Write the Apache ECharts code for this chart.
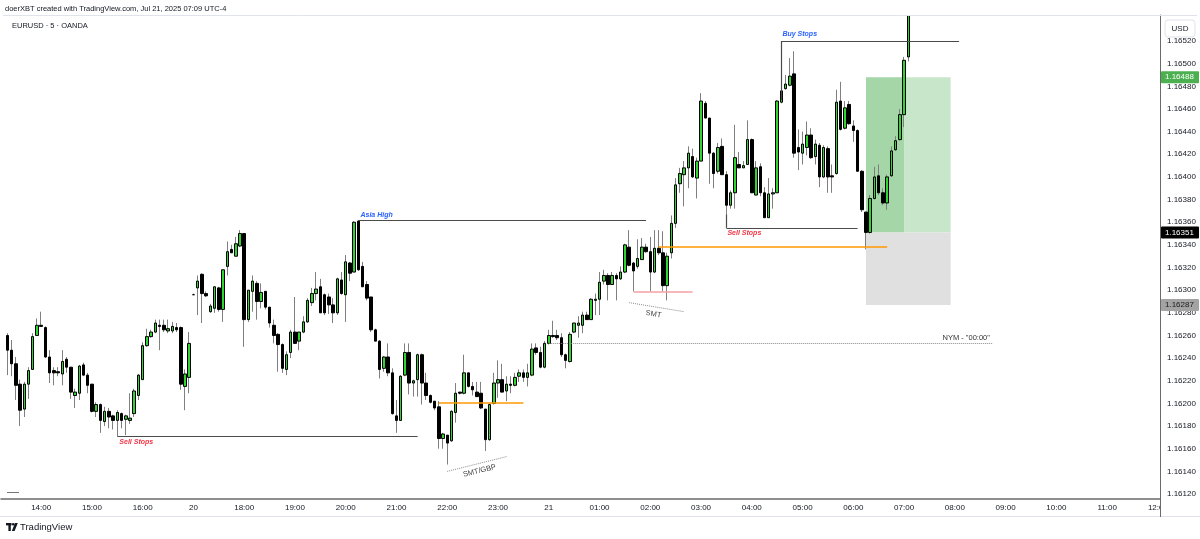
<!DOCTYPE html>
<html><head><meta charset="utf-8">
<script src="https://cdn.jsdelivr.net/npm/echarts@6/dist/echarts.min.js"></script>
<style>html,body{margin:0;padding:0;background:#fff}#c{width:1200px;height:539px}</style>
</head><body><div id="c"></div>
<script>
// ---------- time slots (5-minute bars) ----------
const sessionStart = '13:15';
const slotCount = 274;
const dayLabels = { '17:00': '20', '00:00': '21' };
const candleStart = '13:20';

// ---------- EURUSD 5m candles: [open, high, low, close] ----------
const candles = [
[1.16260,1.16262,1.16225,1.16247],[1.16247,1.16256,1.16224,1.16235],[1.16235,1.16241,1.16203,1.16216],[1.16217,1.16221,1.16180,1.16194],
[1.16195,1.16219,1.16188,1.16217],[1.16217,1.16232,1.16204,1.16229],[1.16230,1.16262,1.16230,1.16259],[1.16260,1.16275,1.16260,1.16269],
[1.16269,1.16281,1.16268,1.16268],[1.16267,1.16268,1.16240,1.16241],[1.16241,1.16247,1.16218,1.16227],[1.16229,1.16232,1.16216,1.16227],
[1.16228,1.16232,1.16224,1.16227],[1.16226,1.16247,1.16216,1.16237],[1.16239,1.16241,1.16227,1.16232],[1.16232,1.16232,1.16204,1.16210],
[1.16207,1.16213,1.16196,1.16210],[1.16209,1.16234,1.16203,1.16233],[1.16234,1.16236,1.16224,1.16225],[1.16225,1.16227,1.16209,1.16216],
[1.16217,1.16217,1.16192,1.16193],[1.16193,1.16201,1.16188,1.16199],[1.16199,1.16200,1.16174,1.16185],[1.16184,1.16197,1.16180,1.16193],
[1.16193,1.16196,1.16178,1.16188],[1.16189,1.16190,1.16177,1.16185],[1.16185,1.16194,1.16171,1.16192],[1.16191,1.16192,1.16178,1.16185],
[1.16186,1.16190,1.16172,1.16189],[1.16185,1.16209,1.16182,1.16187],[1.16191,1.16213,1.16188,1.16211],[1.16207,1.16226,1.16203,1.16225],
[1.16221,1.16254,1.16221,1.16251],[1.16251,1.16266,1.16250,1.16259],[1.16259,1.16265,1.16258,1.16263],[1.16263,1.16274,1.16262,1.16271],
[1.16269,1.16274,1.16247,1.16268],[1.16269,1.16274,1.16263,1.16265],[1.16264,1.16274,1.16262,1.16266],[1.16264,1.16272,1.16262,1.16268],
[1.16267,1.16271,1.16263,1.16265],[1.16267,1.16268,1.16212,1.16217],[1.16215,1.16230,1.16194,1.16226],[1.16223,1.16263,1.16209,1.16253],
[1.16296,1.16297,1.16296,1.16296],[1.16302,1.16313,1.16278,1.16308],[1.16314,1.16315,1.16271,1.16297],[1.16297,1.16299,1.16294,1.16295],
[1.16281,1.16288,1.16280,1.16286],[1.16284,1.16303,1.16280,1.16303],[1.16302,1.16303,1.16281,1.16283],[1.16283,1.16318,1.16272,1.16318],
[1.16321,1.16343,1.16313,1.16334],[1.16336,1.16340,1.16333,1.16333],[1.16330,1.16347,1.16330,1.16341],[1.16339,1.16353,1.16338,1.16350],
[1.16350,1.16350,1.16250,1.16274],[1.16274,1.16300,1.16272,1.16300],[1.16299,1.16313,1.16281,1.16308],[1.16306,1.16308,1.16274,1.16290],
[1.16290,1.16306,1.16284,1.16298],[1.16299,1.16299,1.16283,1.16285],[1.16285,1.16285,1.16267,1.16271],[1.16269,1.16274,1.16253,1.16260],
[1.16261,1.16262,1.16228,1.16252],[1.16252,1.16253,1.16227,1.16231],[1.16230,1.16246,1.16225,1.16243],[1.16245,1.16265,1.16240,1.16263],
[1.16263,1.16294,1.16253,1.16253],[1.16255,1.16263,1.16247,1.16263],[1.16263,1.16277,1.16262,1.16272],[1.16272,1.16293,1.16271,1.16291],
[1.16289,1.16302,1.16286,1.16297],[1.16297,1.16316,1.16291,1.16301],[1.16303,1.16310,1.16280,1.16280],[1.16296,1.16297,1.16278,1.16280],
[1.16294,1.16297,1.16279,1.16287],[1.16287,1.16293,1.16271,1.16280],[1.16280,1.16311,1.16278,1.16310],[1.16309,1.16316,1.16296,1.16297],
[1.16296,1.16331,1.16272,1.16325],[1.16324,1.16325,1.16308,1.16315],[1.16316,1.16361,1.16316,1.16360],[1.16361,1.16362,1.16317,1.16318],
[1.16321,1.16325,1.16303,1.16303],[1.16305,1.16308,1.16291,1.16293],[1.16294,1.16294,1.16263,1.16265],[1.16265,1.16266,1.16255,1.16255],
[1.16255,1.16256,1.16222,1.16230],[1.16231,1.16242,1.16228,1.16241],[1.16241,1.16253,1.16224,1.16227],[1.16227,1.16231,1.16190,1.16191],
[1.16189,1.16203,1.16174,1.16185],[1.16185,1.16225,1.16185,1.16224],[1.16225,1.16253,1.16224,1.16245],[1.16245,1.16253,1.16208,1.16218],
[1.16218,1.16221,1.16206,1.16220],[1.16221,1.16244,1.16206,1.16243],[1.16243,1.16244,1.16199,1.16218],[1.16218,1.16227,1.16203,1.16207],
[1.16207,1.16208,1.16200,1.16201],[1.16202,1.16202,1.16194,1.16196],[1.16197,1.16202,1.16160,1.16169],[1.16169,1.16174,1.16160,1.16173],
[1.16172,1.16172,1.16146,1.16165],[1.16167,1.16194,1.16166,1.16193],[1.16192,1.16218,1.16183,1.16209],[1.16210,1.16210,1.16208,1.16209],
[1.16209,1.16243,1.16208,1.16227],[1.16227,1.16227,1.16214,1.16215],[1.16215,1.16219,1.16207,1.16212],[1.16210,1.16219,1.16206,1.16206],
[1.16209,1.16219,1.16195,1.16196],[1.16195,1.16195,1.16158,1.16168],[1.16168,1.16200,1.16167,1.16199],[1.16200,1.16227,1.16199,1.16218],
[1.16218,1.16238,1.16205,1.16221],[1.16221,1.16235,1.16210,1.16210],[1.16211,1.16224,1.16202,1.16217],[1.16217,1.16224,1.16209,1.16216],
[1.16216,1.16227,1.16215,1.16223],[1.16224,1.16230,1.16219,1.16227],[1.16227,1.16230,1.16219,1.16223],[1.16223,1.16235,1.16215,1.16227],
[1.16225,1.16253,1.16224,1.16248],[1.16249,1.16253,1.16243,1.16245],[1.16245,1.16250,1.16231,1.16232],[1.16232,1.16255,1.16231,1.16253],
[1.16253,1.16265,1.16252,1.16260],[1.16260,1.16273,1.16258,1.16259],[1.16260,1.16265,1.16256,1.16258],[1.16258,1.16262,1.16241,1.16243],
[1.16243,1.16244,1.16231,1.16238],[1.16237,1.16263,1.16236,1.16261],[1.16263,1.16271,1.16262,1.16271],[1.16269,1.16277,1.16258,1.16271],
[1.16269,1.16281,1.16262,1.16278],[1.16278,1.16281,1.16274,1.16274],[1.16274,1.16293,1.16274,1.16292],[1.16291,1.16297,1.16278,1.16292],
[1.16292,1.16316,1.16278,1.16307],[1.16308,1.16318,1.16305,1.16313],[1.16313,1.16315,1.16291,1.16305],[1.16305,1.16316,1.16305,1.16313],
[1.16313,1.16315,1.16291,1.16310],[1.16310,1.16321,1.16309,1.16316],[1.16316,1.16341,1.16315,1.16340],[1.16338,1.16353,1.16321,1.16322],
[1.16324,1.16325,1.16299,1.16317],[1.16321,1.16345,1.16319,1.16328],[1.16327,1.16346,1.16327,1.16338],[1.16338,1.16341,1.16333,1.16334],
[1.16334,1.16347,1.16299,1.16316],[1.16316,1.16353,1.16315,1.16337],[1.16337,1.16353,1.16331,1.16333],[1.16333,1.16352,1.16299,1.16304],
[1.16304,1.16333,1.16291,1.16330],[1.16333,1.16366,1.16328,1.16359],[1.16359,1.16399,1.16355,1.16393],[1.16394,1.16408,1.16386,1.16403],
[1.16402,1.16414,1.16374,1.16408],[1.16408,1.16427,1.16390,1.16421],[1.16418,1.16425,1.16399,1.16400],[1.16399,1.16417,1.16381,1.16414],
[1.16414,1.16474,1.16414,1.16467],[1.16465,1.16467,1.16452,1.16452],[1.16452,1.16452,1.16394,1.16421],[1.16421,1.16422,1.16390,1.16403],
[1.16405,1.16430,1.16403,1.16426],[1.16427,1.16434,1.16402,1.16402],[1.16402,1.16405,1.16367,1.16375],[1.16375,1.16388,1.16372,1.16386],
[1.16386,1.16446,1.16372,1.16417],[1.16411,1.16422,1.16408,1.16408],[1.16408,1.16414,1.16408,1.16410],[1.16411,1.16450,1.16411,1.16433],
[1.16433,1.16434,1.16386,1.16386],[1.16384,1.16414,1.16384,1.16408],[1.16409,1.16412,1.16383,1.16386],[1.16386,1.16391,1.16364,1.16364],
[1.16364,1.16399,1.16364,1.16385],[1.16385,1.16390,1.16372,1.16386],[1.16386,1.16468,1.16386,1.16467],[1.16466,1.16481,1.16465,1.16476],
[1.16478,1.16490,1.16477,1.16482],[1.16481,1.16505,1.16480,1.16489],[1.16491,1.16511,1.16417,1.16421],[1.16426,1.16442,1.16406,1.16422],
[1.16421,1.16440,1.16411,1.16429],[1.16426,1.16449,1.16419,1.16437],[1.16437,1.16443,1.16416,1.16417],[1.16418,1.16433,1.16411,1.16429],
[1.16428,1.16430,1.16391,1.16400],[1.16400,1.16428,1.16399,1.16426],[1.16425,1.16427,1.16386,1.16400],[1.16401,1.16411,1.16386,1.16400],
[1.16403,1.16477,1.16402,1.16466],[1.16467,1.16484,1.16441,1.16442],[1.16443,1.16467,1.16442,1.16461],[1.16464,1.16467,1.16446,1.16447],
[1.16445,1.16450,1.16431,1.16441],[1.16441,1.16442,1.16405,1.16405],[1.16405,1.16406,1.16369,1.16371],[1.16369,1.16369,1.16336,1.16351],
[1.16351,1.16384,1.16350,1.16381],[1.16381,1.16409,1.16380,1.16400],[1.16401,1.16411,1.16384,1.16386],[1.16386,1.16390,1.16375,1.16377],
[1.16377,1.16402,1.16371,1.16400],[1.16401,1.16427,1.16400,1.16423],[1.16424,1.16436,1.16423,1.16432],[1.16433,1.16460,1.16432,1.16455],
[1.16455,1.16506,1.16444,1.16503],[1.16506,1.16558,1.16502,1.16552]
];

// ---------- price axis ----------
const priceMin = 1.161156, priceMax = 1.16543;

// ---------- drawings: [time, price] points ----------
const sellStopsA = [['15:30',1.16171],['21:25',1.16171]];
const asiaHigh   = [['20:15',1.16362],['01:55',1.16362]];
const orangeA    = [['21:50',1.16201],['23:30',1.16201]];
const smtGbpLine = [['22:00',1.16140],['23:10',1.16153]];
const nymOpen    = [['00:00',1.16253],['08:45',1.16253]];
const orangeB    = [['02:10',1.16338],['06:40',1.16338]];
const smtLow     = [['01:40',1.16299],['02:50',1.16299]];
const smtLine    = [['01:35',1.16289],['02:40',1.16281]];
const sellStopsB = [['03:30',1.16367],['03:30',1.16355],['06:05',1.16355]];
const buyStops   = [['04:35',1.16468],['04:35',1.16520],['08:05',1.16520]];
const positionTimes = ['06:15','07:00','07:55'];
const entryPrice = 1.16351, targetPrice = 1.16488, stopPrice = 1.16287;

// ---------- build ----------
const toMin = s => { const [h, m] = s.split(':').map(Number); return h * 60 + m; };
const pad = n => String(n).padStart(2, '0');
const categories = [];
for (let i = 0; i < slotCount; i++) {
  const t = (toMin(sessionStart) + i * 5) % 1440;
  categories.push(pad(Math.floor(t / 60)) + ':' + pad(t % 60));
}
const idx = t => categories.indexOf(t);
const offset = idx(candleStart);
const wickData = [], bodyData = [];
for (let i = 0; i < offset; i++) { wickData.push('-'); bodyData.push('-'); }
candles.forEach(([o, h, l, c]) => {
  wickData.push([o, c, l, h]);
  bodyData.push([o, c, Math.min(o, c), Math.max(o, c)]);
});

const FONT = '"Liberation Sans", Arial, sans-serif';
const dark = { color: '#4a4a4a', width: 1.2, type: 'solid' };
const orange = { color: '#ff9800', width: 1.6, type: 'solid' };
const pink = { color: '#f5a0a6', width: 1.6, type: 'solid' };
const dotted = { color: '#8a8a8a', width: 1, type: 'dotted' };
function poly(points, style) {
  const out = [];
  for (let i = 0; i < points.length - 1; i++) {
    out.push([{ coord: [idx(points[i][0]), points[i][1]], lineStyle: style },
              { coord: [idx(points[i + 1][0]), points[i + 1][1]] }]);
  }
  return out;
}
const lineData = [].concat(
  poly(sellStopsA, dark), poly(asiaHigh, dark), poly(orangeA, orange),
  poly(smtGbpLine, dotted), poly(nymOpen, dotted), poly(orangeB, orange),
  poly(smtLow, pink), poly(smtLine, dotted), poly(sellStopsB, dark), poly(buyStops, dark)
);
const [pStart, pNow, pEnd] = positionTimes.map(idx);
const areaData = [
  [{ coord: [pStart, targetPrice], itemStyle: { color: '#a5d6a7' } }, { coord: [pNow, entryPrice] }],
  [{ coord: [pNow, targetPrice], itemStyle: { color: '#c8e6c9' } }, { coord: [pEnd, entryPrice] }],
  [{ coord: [pStart, entryPrice], itemStyle: { color: '#e0e0e0' } }, { coord: [pEnd, stopPrice] }]
];

const chart = echarts.init(document.getElementById('c'), null, { renderer: 'canvas' });
chart.setOption({
  animation: false,
  backgroundColor: '#fff',
  grid: { left: 1, right: 40, top: 15, bottom: 40 },
  xAxis: {
    type: 'category', data: categories, boundaryGap: true,
    axisLine: { show: true, lineStyle: { color: '#6a6a6a', width: 1.5 } },
    axisTick: { show: false },
    splitLine: { show: false },
    axisLabel: {
      interval: (i, v) => v.endsWith(':00'),
      formatter: v => dayLabels[v] || v,
      color: '#131722', fontSize: 8, fontFamily: FONT, margin: 5, hideOverlap: false
    }
  },
  yAxis: {
    type: 'value', position: 'right', scale: true,
    min: priceMin, max: priceMax, splitNumber: 20,
    axisLine: { show: true, lineStyle: { color: '#6a6a6a', width: 1 } },
    axisTick: { show: false },
    splitLine: { show: false },
    axisLabel: {
      showMinLabel: false, showMaxLabel: false,
      formatter: v => (v > 1.16530 ? '' : v.toFixed(5)), color: '#131722', fontSize: 8, fontFamily: FONT, margin: 7
    }
  },
  series: [
    {
      type: 'candlestick', name: 'wicks', data: wickData, barWidth: 1, z: 2, clip: true,
      itemStyle: { color: '#7f7f7f', color0: '#7f7f7f', borderColor: '#7f7f7f', borderColor0: '#7f7f7f', borderWidth: 1 },
      markArea: { silent: true, data: areaData, z: 1 },
      markLine: { silent: true, symbol: ['none', 'none'], label: { show: false }, data: lineData, z: 6 }
    },
    {
      type: 'candlestick', name: 'bodies', data: bodyData, barWidth: 3, z: 3, clip: true,
      itemStyle: { color: '#2fd62f', color0: '#000000', borderColor: '#000000', borderColor0: '#000000', borderWidth: 1 }
    }
  ]
});

const P = (t, p) => chart.convertToPixel({ xAxisIndex: 0, yAxisIndex: 0 }, [idx(t), p]);
const g = [];
function txt(x, y, text, fill, font, align, rot) {
  g.push({ type: 'text', x, y, rotation: rot || 0, z: 100,
    style: { text, fill, font, align: align || 'left', verticalAlign: 'middle', textAlign: align || 'left', textVerticalAlign: 'middle' } });
}
const noteFont = 'italic bold 7px ' + FONT;
let a;
a = P(sellStopsA[0][0], sellStopsA[0][1]); txt(a[0] + 2, a[1] + 6, 'Sell Stops', '#f23645', noteFont);
a = P(asiaHigh[0][0], asiaHigh[0][1]); txt(a[0] + 2, a[1] - 5, 'Asia High', '#2962ff', noteFont);
a = P(buyStops[1][0], buyStops[1][1]); txt(a[0] + 1, a[1] - 6.5, 'Buy Stops', '#2962ff', noteFont);
a = P(sellStopsB[1][0], sellStopsB[1][1]); txt(a[0] + 1, a[1] + 5.5, 'Sell Stops', '#f23645', noteFont);
a = P(nymOpen[1][0], nymOpen[1][1]); txt(a[0] - 3, a[1] - 5.5, 'NYM - "00:00"', '#333333', '7.5px ' + FONT, 'right');
{
  const p1 = P(smtLine[0][0], smtLine[0][1]), p2 = P(smtLine[1][0], smtLine[1][1]);
  const ang = Math.atan2(p2[1] - p1[1], p2[0] - p1[0]);
  const mx = (p1[0] + p2[0]) / 2, my = (p1[1] + p2[1]) / 2;
  txt(mx - Math.sin(ang) * 7 - 2, my + Math.cos(ang) * 7, 'SMT', '#444444', '7.5px ' + FONT, 'center', -ang);
}
{
  const p1 = P(smtGbpLine[0][0], smtGbpLine[0][1]), p2 = P(smtGbpLine[1][0], smtGbpLine[1][1]);
  const ang = Math.atan2(p2[1] - p1[1], p2[0] - p1[0]);
  const mx = (p1[0] + p2[0]) / 2, my = (p1[1] + p2[1]) / 2;
  txt(mx - Math.sin(ang) * 7 + 1, my + Math.cos(ang) * 7, 'SMT/GBP', '#444444', '7.5px ' + FONT, 'center', -ang);
}
// price tags on axis
function tag(price, bg, fg) {
  const y = chart.convertToPixel({ yAxisIndex: 0 }, price);
  g.push({ type: 'rect', shape: { x: 1161, y: y - 6, width: 38, height: 12, r: 1 }, style: { fill: bg }, z: 100 });
  txt(1165, y, price.toFixed(5), fg, '8px ' + FONT, 'left');
}
tag(targetPrice, '#4caf50', '#ffffff');
tag(entryPrice, '#000000', '#ffffff');
tag(stopPrice, '#a3a3a3', '#1a1a1a');
// header strip (also hides any bar overflowing the plot top), frame, logo
g.push({ type: 'rect', shape: { x: 0, y: 0, width: 1160, height: 15 }, style: { fill: '#fff' }, z: 80 });
txt(5, 9, 'doerXBT created with TradingView.com, Jul 21, 2025 07:09 UTC-4', '#131722', '7.5px ' + FONT);
txt(12, 26, 'EURUSD \u00b7 5 \u00b7 OANDA', '#131722', '7.5px ' + FONT);
g.push({ type: 'rect', shape: { x: 1161, y: 500, width: 39, height: 16 }, style: { fill: '#fff' }, z: 90 });
g.push({ type: 'line', shape: { x1: 3, y1: 15.5, x2: 1197, y2: 15.5 }, style: { stroke: '#e0e3eb', lineWidth: 1 }, z: 90 });
g.push({ type: 'line', shape: { x1: 0, y1: 516.5, x2: 1200, y2: 516.5 }, style: { stroke: '#e0e3eb', lineWidth: 1 }, z: 90 });
g.push({ type: 'line', shape: { x1: 1160.5, y1: 498, x2: 1160.5, y2: 517 }, style: { stroke: '#6a6a6a', lineWidth: 1 }, z: 95 });
g.push({ type: 'line', shape: { x1: 7, y1: 492.5, x2: 19, y2: 492.5 }, style: { stroke: '#777', lineWidth: 1 }, z: 90 });
g.push({ type: 'rect', shape: { x: 1165, y: 20, width: 30, height: 17, r: 3 }, style: { fill: '#fff', stroke: '#e0e3eb', lineWidth: 1 }, z: 95 });
txt(1180, 28.5, 'USD', '#131722', '8px ' + FONT, 'center');
// TradingView logo mark
g.push({ type: 'rect', shape: { x: 6, y: 523, width: 5.5, height: 2.4 }, style: { fill: '#131722' }, z: 90 });
g.push({ type: 'rect', shape: { x: 8.4, y: 523, width: 2.4, height: 8 }, style: { fill: '#131722' }, z: 90 });
g.push({ type: 'circle', shape: { cx: 13.2, cy: 524.3, r: 1.3 }, style: { fill: '#131722' }, z: 90 });
g.push({ type: 'polygon', shape: { points: [[15, 523], [17.8, 523], [14.6, 531], [11.8, 531]] }, style: { fill: '#131722' }, z: 90 });
txt(20, 527.5, 'TradingView', '#131722', '500 9.5px ' + FONT);
chart.setOption({ graphic: g });
</script></body></html>
